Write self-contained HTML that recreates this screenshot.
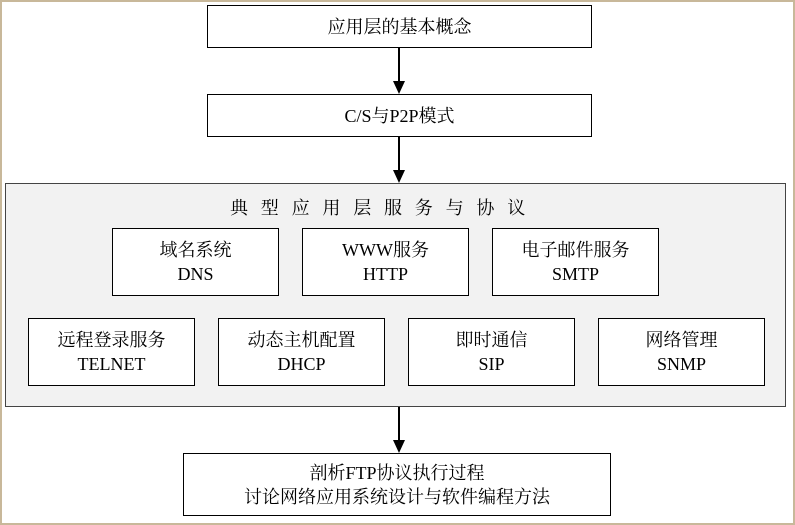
<!DOCTYPE html>
<html><head><meta charset="utf-8"><style>
body{margin:0;width:795px;height:525px;background:#fff;position:relative;overflow:hidden;font-family:"Liberation Serif","Noto Serif CJK SC",serif;color:#000}
.frame{position:absolute;left:0;top:0;width:791px;height:521px;border:2px solid #c8b89a}
.b{position:absolute;border:1.5px solid #000;background:#fff;box-sizing:border-box;display:flex;flex-direction:column;align-items:center;justify-content:center;font-size:18px;line-height:24px;text-align:center}
.panel{position:absolute;left:5px;top:183px;width:781px;height:224px;border:1.5px solid #444;background:#f2f2f2;box-sizing:border-box}
.t{position:absolute;left:230px;top:194px;font-size:18px;letter-spacing:12.8px;white-space:nowrap}
</style></head><body>
<div class="frame"></div>
<div class="b" style="left:207px;top:5px;width:385px;height:43px">应用层的基本概念</div>
<div class="b" style="left:207px;top:94px;width:385px;height:43px">C/S与P2P模式</div>
<div class="panel"></div>
<div class="t">典型应用层服务与协议</div>
<div class="b" style="left:112px;top:228px;width:167px;height:68px">域名系统<br>DNS</div>
<div class="b" style="left:302px;top:228px;width:167px;height:68px">WWW服务<br>HTTP</div>
<div class="b" style="left:492px;top:228px;width:167px;height:68px">电子邮件服务<br>SMTP</div>
<div class="b" style="left:28px;top:318px;width:167px;height:68px">远程登录服务<br>TELNET</div>
<div class="b" style="left:218px;top:318px;width:167px;height:68px">动态主机配置<br>DHCP</div>
<div class="b" style="left:408px;top:318px;width:167px;height:68px">即时通信<br>SIP</div>
<div class="b" style="left:598px;top:318px;width:167px;height:68px">网络管理<br>SNMP</div>
<div class="b" style="left:183px;top:453px;width:428px;height:63px">剖析FTP协议执行过程<br>讨论网络应用系统设计与软件编程方法</div>
<svg width="795" height="525" style="position:absolute;left:0;top:0">
<g stroke="#000" stroke-width="2"><line x1="399" y1="48" x2="399" y2="84"/><line x1="399" y1="137" x2="399" y2="173"/><line x1="399" y1="407" x2="399" y2="443"/></g>
<g fill="#000"><polygon points="393,81 405,81 399,94"/><polygon points="393,170 405,170 399,183"/><polygon points="393,440 405,440 399,453"/></g>
</svg>
</body></html>
